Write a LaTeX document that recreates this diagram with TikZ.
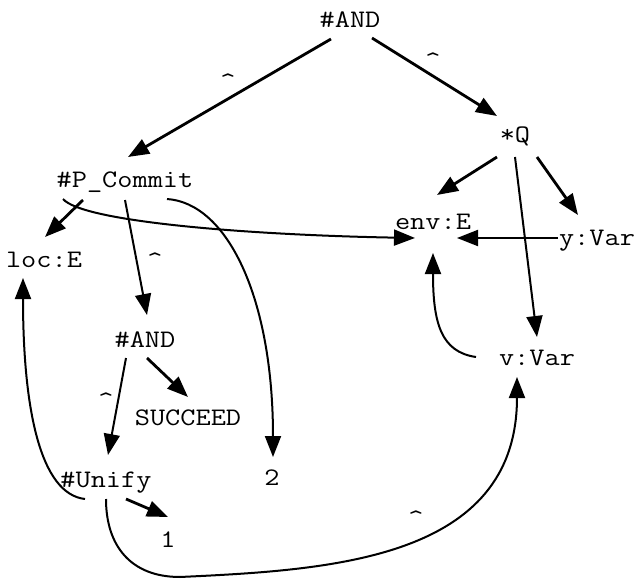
\documentclass[tikz,border=0pt]{standalone}
\usepackage{fontspec}
\setmonofont{Latin Modern Mono}[FakeStretch=1.17]
\usetikzlibrary{arrows.meta}
\tikzset{
    term/.style={font=\ttfamily\fontsize{12.6pt}{14pt}\selectfont, inner sep=0pt, text height=7.5pt, text depth=0pt},
    link/.style={-{Triangle[length=10.5pt,width=8pt]}, line width=1.4pt},
    curl/.style={-{Triangle[length=10.5pt,width=8pt]}, line width=1pt},
}

\begin{document}
\begin{tikzpicture}[x=0.5pt,y=-0.5pt]
\useasboundingbox (0,0) rectangle (639,579);
% terms
\node[term] (and1) at (350,20) {\#AND};
\node[term] (q) at (515,135) {*Q};
\node[term] (pcommit) at (125,180) {\#P\_Commit};
\node[term] (env) at (433,222) {env:E};
\node[term] (yvar) at (597,238) {y:Var};
\node[term] (locE) at (44,260) {loc:E};
\node[term] (and2) at (145,340) {\#AND};
\node[term] (vvar) at (537,358) {v:Var};
\node[term] (succeed) at (188,418) {SUCCEED};
\node[term] (unify) at (106,480) {\#Unify};
\node[term] (two) at (272,478) {2};
\node[term] (one) at (168,540) {1};
% hats
\node[term] (h1) at (228,82) {\textasciicircum};
\node[term] (h2) at (433,61) {\textasciicircum};
\node[term] (h3) at (155,261) {\textasciicircum};
\node[term] (h4) at (106,401) {\textasciicircum};
\node[term] (h5) at (416,519) {\textasciicircum};
% straight arcs
\draw[link] ([shift={(-19,19)}]and1.center) -- ([shift={(3,-23)}]pcommit.center);
\draw[link] ([shift={(22,18)}]and1.center) -- ([shift={(-18,-19)}]q.center);
\draw[link] ([shift={(-18,22)}]q.center) -- ([shift={(4,-27)}]env.center);
\draw[link] ([shift={(22,22)}]q.center) -- ([shift={(-19,-23)}]yvar.center);
\draw[curl] ([shift={(0,22)}]q.center) -- ([shift={(0,-21)}]vvar.center);
\draw[curl] ([shift={(-39,0)}]yvar.center) -- ([shift={(24,16)}]env.center);
\draw[link] ([shift={(-42,20)}]pcommit.center) -- ([shift={(1,-23)}]locE.center);
\draw[curl] ([shift={(0,20)}]pcommit.center) -- ([shift={(2,-25)}]and2.center);
\draw[curl] ([shift={(-19,18)}]and2.center) -- ([shift={(2,-25)}]unify.center);
\draw[link] ([shift={(2,18)}]and2.center) -- ([shift={(0,-21)}]succeed.center);
\draw[link] ([shift={(20,19)}]unify.center) -- ([shift={(0,-23)}]one.center);
% curved arcs
\draw[curl] ([shift={(-62,19)}]pcommit.center) .. controls +(20,23) and +(-165,-3) .. ([shift={(-18,16)}]env.center);
\draw[curl] ([shift={(42,19)}]pcommit.center) .. controls +(60,4) and +(0,-160) .. ([shift={(1,-21)}]two.center);
\draw[curl] ([shift={(-21,19)}]unify.center) .. controls +(-45,-5) and +(0,130) .. ([shift={(-21,18)}]locE.center);
\draw[curl] ([shift={(-61,-1)}]vvar.center) .. controls +(-35,-5) and +(0,70) .. ([shift={(0,31)}]env.center);
\draw[curl] ([shift={(0,19)}]unify.center) .. controls +(0,46) and +(-50,0) .. (180,577)
    .. controls +(150,-7) and +(0,183) .. ([shift={(-20,19)}]vvar.center);
\end{tikzpicture}
\end{document}
